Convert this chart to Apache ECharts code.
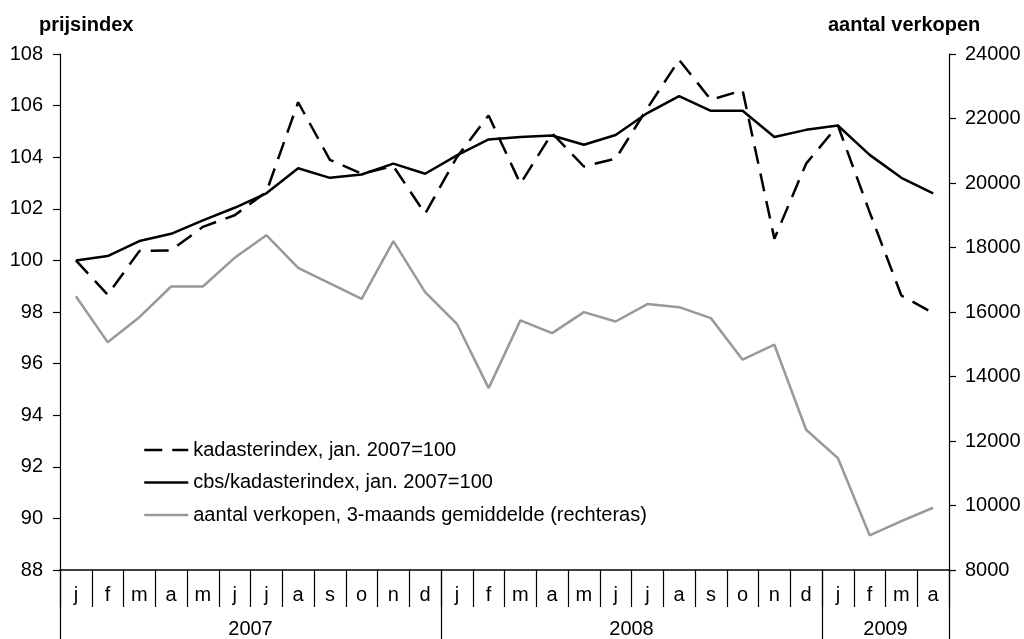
<!DOCTYPE html>
<html>
<head>
<meta charset="utf-8">
<script src="https://cdn.jsdelivr.net/npm/echarts@6/dist/echarts.min.js"></script>
<style>
html,body{margin:0;padding:0;background:#fff;}
#chart{width:1024px;height:639px;}
</style>
</head>
<body>
<div id="chart"></div>
<script>
var months = ['j','f','m','a','m','j','j','a','s','o','n','d',
              'j','f','m','a','m','j','j','a','s','o','n','d',
              'j','f','m','a'];
var years = ['2007','2008','2009'];
var yearStarts = [0, 12, 24, 28];
var leftTicks = [88, 108, 2];
var rightTicks = [8000, 24000, 2000];

var kadasterindex = [100, 98.67, 100.36, 100.39, 101.3, 101.75, 102.65, 106.13, 103.9, 103.36, 103.65, 101.81,
                     104.0, 105.62, 102.97, 104.93, 103.64, 103.94, 105.9, 107.77, 106.23, 106.59, 100.84, 103.75,
                     105.23, 101.87, 98.64, 97.96];
var cbsKadasterindex = [100, 100.17, 100.75, 101.03, 101.55, 102.04, 102.6, 103.57, 103.2, 103.33, 103.75, 103.36,
                        104.07, 104.69, 104.78, 104.84, 104.48, 104.86, 105.71, 106.37, 105.8, 105.8, 104.78, 105.06,
                        105.23, 104.09, 103.2, 102.6];
var aantalVerkopen = [16490, 15065, 15840, 16790, 16790, 17680, 18380, 17370, 16890, 16410, 18200, 16615,
                      15635, 13640, 15740, 15345, 15995, 15705, 16245, 16150, 15810, 14520, 14985, 12350,
                      11470, 9075, 9515, 9930];

var seriesNames = ['kadasterindex, jan. 2007=100', 'cbs/kadasterindex, jan. 2007=100', 'aantal verkopen, 3-maands gemiddelde (rechteras)'];

var yearCenters = [];
for (var i = 0; i < years.length; i++) yearCenters.push((yearStarts[i] + yearStarts[i + 1]) / 2);

var FONT = 'Liberation Sans, Arial, sans-serif';
var chart = echarts.init(document.getElementById('chart'), null, {renderer: 'canvas'});
chart.setOption({
  animation: false,
  backgroundColor: '#fff',
  textStyle: {fontFamily: FONT, color: '#000'},
  grid: {left: 60, right: 75, top: 54, bottom: 69, containLabel: false},
  graphic: [
    {type: 'text', left: 39, top: 15, style: {text: 'prijsindex', font: 'bold 20px ' + FONT, fill: '#000'}},
    {type: 'text', left: 828, top: 15, style: {text: 'aantal verkopen', font: 'bold 20px ' + FONT, fill: '#000'}}
  ],
  legend: {
    orient: 'vertical',
    left: 143,
    top: 440,
    padding: 0,
    itemWidth: 44,
    itemHeight: 20,
    itemGap: 12.5,
    itemStyle: {opacity: 0, borderWidth: 0},
    lineStyle: {width: 2.5},
    textStyle: {fontFamily: FONT, fontSize: 20, color: '#000'},
    data: seriesNames
  },
  xAxis: [
    {
      type: 'category',
      data: months,
      boundaryGap: true,
      position: 'bottom',
      axisLine: {show: true, lineStyle: {color: '#000', width: 1.5}},
      axisTick: {show: true, interval: 0, length: 37, lineStyle: {color: '#000', width: 1.2}},
      axisLabel: {interval: 0, margin: 15, fontSize: 20, color: '#000', fontFamily: FONT},
      splitLine: {show: false}
    },
    {
      type: 'value',
      min: 0,
      max: months.length,
      position: 'bottom',
      axisLine: {show: false},
      axisTick: {show: true, customValues: yearStarts, length: 69, lineStyle: {color: '#000', width: 1.2}},
      axisLabel: {
        customValues: yearCenters,
        margin: 49,
        fontSize: 20,
        color: '#000',
        fontFamily: FONT,
        formatter: function (v) {
          var idx = yearCenters.indexOf(v);
          return idx >= 0 ? years[idx] : '';
        }
      },
      splitLine: {show: false}
    }
  ],
  yAxis: [
    {
      type: 'value',
      min: leftTicks[0], max: leftTicks[1], interval: leftTicks[2],
      axisLine: {show: true, lineStyle: {color: '#000', width: 1.2}},
      axisTick: {show: true, length: 7, lineStyle: {color: '#000', width: 1.2}},
      axisLabel: {margin: 17, fontSize: 20, color: '#000', fontFamily: FONT},
      splitLine: {show: false}
    },
    {
      type: 'value',
      min: rightTicks[0], max: rightTicks[1], interval: rightTicks[2],
      position: 'right',
      axisLine: {show: true, lineStyle: {color: '#000', width: 1.2}},
      axisTick: {show: true, length: 7, lineStyle: {color: '#000', width: 1.2}},
      axisLabel: {margin: 16, fontSize: 20, color: '#000', fontFamily: FONT,
                  formatter: function (v) { return String(v); }},
      splitLine: {show: false}
    }
  ],
  series: [
    {
      name: seriesNames[2], type: 'line', xAxisIndex: 0, yAxisIndex: 1,
      data: aantalVerkopen, symbol: 'none', z: 2,
      lineStyle: {color: '#999999', width: 2.5}, itemStyle: {color: '#999999'}
    },
    {
      name: seriesNames[0], type: 'line', xAxisIndex: 0, yAxisIndex: 0,
      data: kadasterindex, symbol: 'none', z: 3,
      lineStyle: {color: '#000', width: 2.5, type: [18, 10]}, itemStyle: {color: '#000'}
    },
    {
      name: seriesNames[1], type: 'line', xAxisIndex: 0, yAxisIndex: 0,
      data: cbsKadasterindex, symbol: 'none', z: 4,
      lineStyle: {color: '#000', width: 2.5}, itemStyle: {color: '#000'}
    }
  ]
});
</script>
</body>
</html>
